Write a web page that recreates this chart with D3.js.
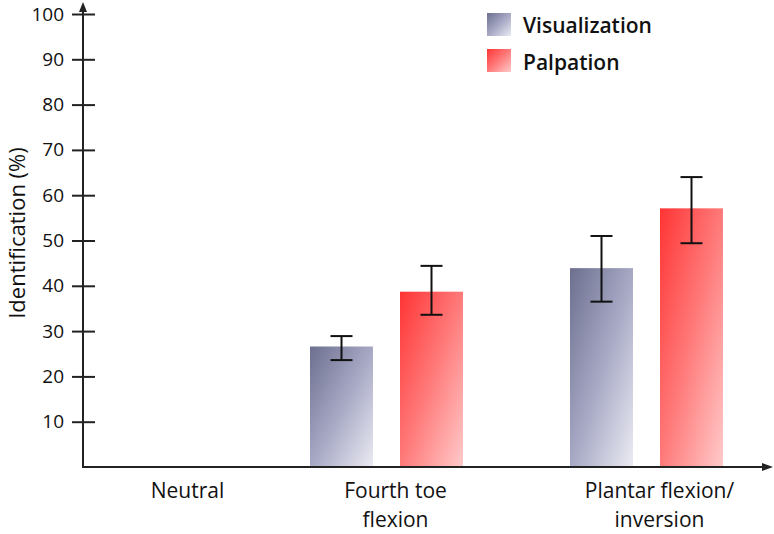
<!DOCTYPE html>
<html><head><meta charset="utf-8">
<script src="https://cdn.jsdelivr.net/npm/d3@7"></script>
<style>
html,body{margin:0;padding:0;background:#fff;}
svg{display:block;font-family:"Open Sans",sans-serif;}
</style></head>
<body><svg id="c" width="774" height="534"></svg>
<script>
const categories = ["Neutral", "Fourth toe\nflexion", "Plantar flexion/\ninversion"];
const seriesNames = ["Visualization", "Palpation"];
const visualization = [null, 26.6, 43.9];
const palpation = [null, 38.7, 57.1];
const visLow = [null, 23.6, 36.5];
const visHigh = [null, 28.9, 51.0];
const palLow = [null, 33.6, 49.4];
const palHigh = [null, 44.4, 64.0];
const yTicks = [10,20,30,40,50,60,70,80,90,100];

const svg = d3.select("#c");
const axisX = 83, axisY = 467;
const y = d3.scaleLinear().domain([0,100]).range([467,14]);
const x = d3.scalePoint().domain(categories).range([126.5, 646.5]);
const xs = d3.scaleBand().domain(seriesNames).range([-76.5, 76.5]).paddingInner(0.3).paddingOuter(0);

const defs = svg.append("defs");
const g1 = defs.append("linearGradient").attr("id","gVis").attr("x1",0).attr("y1",0).attr("x2",1).attr("y2",1);
g1.append("stop").attr("offset","0%").attr("stop-color","#6c6f8e");
g1.append("stop").attr("offset","50%").attr("stop-color","#a6a8c4");
g1.append("stop").attr("offset","100%").attr("stop-color","#ebebf3");
const g2 = defs.append("linearGradient").attr("id","gPal").attr("x1",0).attr("y1",0).attr("x2",1).attr("y2",1);
g2.append("stop").attr("offset","0%").attr("stop-color","#ff3434");
g2.append("stop").attr("offset","50%").attr("stop-color","#ff7a7a");
g2.append("stop").attr("offset","100%").attr("stop-color","#ffcaca");
const fills = ["url(#gVis)","url(#gPal)"];

const series = [
  {name: seriesNames[0], vals: visualization, lo: visLow, hi: visHigh},
  {name: seriesNames[1], vals: palpation, lo: palLow, hi: palHigh}
];

// bars
series.forEach((s, si) => {
  const data = categories.map((c,i)=>({c, v:s.vals[i], lo:s.lo[i], hi:s.hi[i]})).filter(d=>d.v!=null);
  svg.append("g").selectAll("rect").data(data).join("rect")
    .attr("x", d=>x(d.c)+xs(s.name))
    .attr("y", d=>y(d.v))
    .attr("width", xs.bandwidth())
    .attr("height", d=>y(0)-y(d.v))
    .attr("fill", fills[si]);
  const eg = svg.append("g").attr("stroke","#111").attr("stroke-width",2);
  data.forEach(d=>{
    const cx = x(d.c)+xs(s.name)+xs.bandwidth()/2;
    eg.append("line").attr("x1",cx).attr("x2",cx).attr("y1",y(d.hi)).attr("y2",y(d.lo));
    eg.append("line").attr("x1",cx-11).attr("x2",cx+11).attr("y1",y(d.hi)).attr("y2",y(d.hi));
    eg.append("line").attr("x1",cx-11).attr("x2",cx+11).attr("y1",y(d.lo)).attr("y2",y(d.lo));
  });
});

// y axis
const ya = svg.append("g").attr("transform",`translate(${axisX},0)`)
  .call(d3.axisLeft(y).tickValues(yTicks).tickSize(0).tickPadding(19));
ya.select(".domain").remove();
ya.selectAll("text").attr("font-size",19).attr("fill","#111").attr("font-family","'Open Sans',sans-serif");
ya.selectAll(".tick").append("line").attr("x1",-11).attr("x2",12).attr("stroke","#222").attr("stroke-width",2);
svg.append("line").attr("x1",axisX).attr("x2",axisX).attr("y1",axisY+1).attr("y2",8).attr("stroke","#222").attr("stroke-width",2);
svg.append("path").attr("d",`M${axisX-4},12 L${axisX},2 L${axisX+4},12 Z`).attr("fill","#222");

// x axis
svg.append("line").attr("x1",axisX-1).attr("x2",764).attr("y1",axisY).attr("y2",axisY).attr("stroke","#222").attr("stroke-width",2);
svg.append("path").attr("d",`M762,${axisY-4} L773,${axisY} L762,${axisY+4} Z`).attr("fill","#222");

// x labels
const labelDx = [61, 9, 13];
categories.forEach((c,i)=>{
  const t = svg.append("text").attr("x", x(c)+labelDx[i]).attr("y", 498)
    .attr("text-anchor","middle").attr("font-size",21).attr("fill","#111");
  c.split("\n").forEach((ln,j)=>{
    t.append("tspan").attr("x", x(c)+labelDx[i]).attr("dy", j===0?0:29).text(ln);
  });
});

// y title
svg.append("text").attr("transform","translate(25,233) rotate(-90)")
  .attr("text-anchor","middle").attr("font-size",22).attr("fill","#111")
  .text("Identification (%)");

// legend
const lg = svg.append("g");
seriesNames.forEach((n,i)=>{
  lg.append("rect").attr("x",487).attr("y",13+i*36).attr("width",24).attr("height",23).attr("fill",fills[i]);
  lg.append("text").attr("x",523).attr("y",33+i*37).attr("font-size",21).attr("font-weight",600)
    .attr("fill","#111").text(n);
});
</script></body></html>
